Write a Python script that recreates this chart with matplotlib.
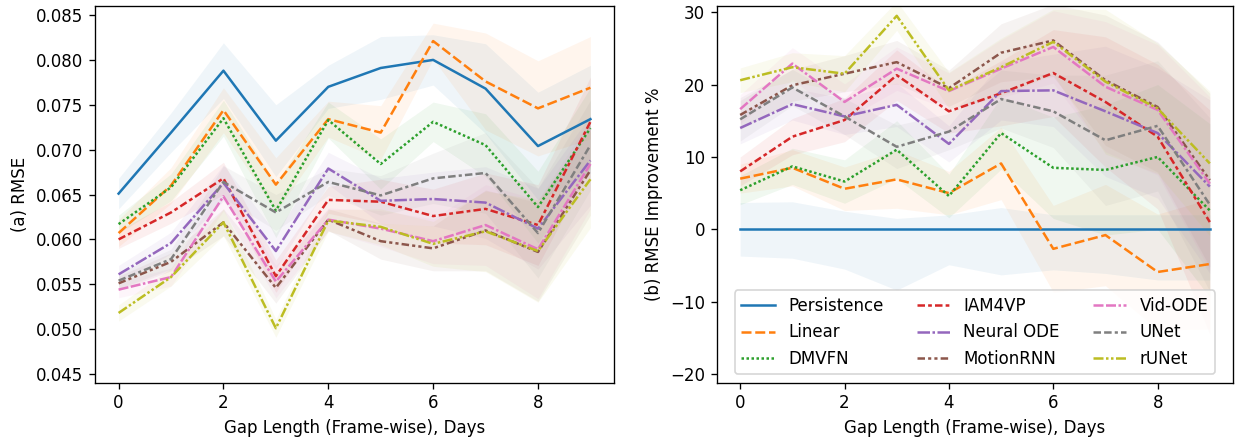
import matplotlib
matplotlib.use("Agg")
import matplotlib.pyplot as plt
import numpy as np

gaps = list(range(10))
models = ["Persistence", "Linear", "DMVFN", "IAM4VP", "Neural ODE",
          "MotionRNN", "Vid-ODE", "UNet", "rUNet"]

# (a) RMSE means
rmse_persistence = [0.0651, 0.0719, 0.0788, 0.0710, 0.0770, 0.0791, 0.0800, 0.0768, 0.0704, 0.0734]
rmse_linear      = [0.0607, 0.0660, 0.0744, 0.0661, 0.0734, 0.0719, 0.0821, 0.0776, 0.0746, 0.0769]
rmse_dmvfn       = [0.0617, 0.0658, 0.0735, 0.0632, 0.0733, 0.0684, 0.0731, 0.0705, 0.0636, 0.0724]
rmse_iam4vp      = [0.0600, 0.0630, 0.0668, 0.0559, 0.0644, 0.0642, 0.0626, 0.0634, 0.0616, 0.0731]
rmse_neuralode   = [0.0561, 0.0596, 0.0663, 0.0587, 0.0679, 0.0643, 0.0645, 0.0641, 0.0612, 0.0688]
rmse_motionrnn   = [0.0551, 0.0575, 0.0619, 0.0546, 0.0622, 0.0598, 0.0590, 0.0610, 0.0586, 0.0677]
rmse_vidode      = [0.0544, 0.0558, 0.0648, 0.0553, 0.0622, 0.0612, 0.0598, 0.0616, 0.0589, 0.0684]
rmse_unet        = [0.0554, 0.0578, 0.0664, 0.0630, 0.0664, 0.0649, 0.0668, 0.0674, 0.0607, 0.0705]
rmse_runet       = [0.0518, 0.0558, 0.0619, 0.0501, 0.0621, 0.0614, 0.0595, 0.0609, 0.0587, 0.0667]

# (a) RMSE band half-widths
err_persistence = [0.0017, 0.0022, 0.0031, 0.0040, 0.0024, 0.0035, 0.0028, 0.0050, 0.0060, 0.0060]
err_linear      = [0.0015, 0.0020, 0.0025, 0.0030, 0.0020, 0.0030, 0.0020, 0.0054, 0.0053, 0.0057]
err_dmvfn       = [0.0010, 0.0015, 0.0020, 0.0030, 0.0020, 0.0028, 0.0022, 0.0035, 0.0040, 0.0045]
err_iam4vp      = [0.0010, 0.0012, 0.0018, 0.0018, 0.0015, 0.0025, 0.0030, 0.0040, 0.0045, 0.0050]
err_neuralode   = [0.0010, 0.0012, 0.0020, 0.0020, 0.0018, 0.0025, 0.0030, 0.0040, 0.0045, 0.0050]
err_motionrnn   = [0.0008, 0.0010, 0.0015, 0.0017, 0.0012, 0.0020, 0.0025, 0.0045, 0.0055, 0.0050]
err_vidode      = [0.0009, 0.0010, 0.0016, 0.0018, 0.0013, 0.0020, 0.0025, 0.0045, 0.0055, 0.0050]
err_unet        = [0.0009, 0.0011, 0.0018, 0.0020, 0.0015, 0.0022, 0.0028, 0.0045, 0.0050, 0.0050]
err_runet       = [0.0009, 0.0010, 0.0015, 0.0010, 0.0012, 0.0020, 0.0025, 0.0045, 0.0057, 0.0054]

# (b) RMSE improvement % means
imp_persistence = [0, 0, 0, 0, 0, 0, 0, 0, 0, 0]
imp_linear      = [7.0, 8.5, 5.6, 6.9, 5.0, 9.1, -2.7, -0.8, -5.9, -4.8]
imp_dmvfn       = [5.4, 8.7, 6.6, 11.0, 4.6, 13.3, 8.5, 8.2, 10.0, 2.6]
imp_iam4vp      = [8.0, 12.8, 15.1, 21.3, 16.3, 18.8, 21.6, 17.6, 12.8, 1.0]
imp_neuralode   = [14.0, 17.3, 15.6, 17.2, 11.8, 19.1, 19.2, 16.3, 13.3, 5.9]
imp_motionrnn   = [15.8, 19.9, 21.5, 23.1, 19.5, 24.4, 26.1, 20.6, 16.9, 6.8]
imp_vidode      = [16.6, 22.9, 17.6, 22.2, 19.1, 22.2, 25.2, 19.7, 16.5, 6.3]
imp_unet        = [15.2, 19.6, 15.6, 11.4, 13.5, 18.0, 16.3, 12.3, 14.3, 3.4]
imp_runet       = [20.6, 22.4, 21.5, 29.5, 19.2, 22.4, 25.9, 20.4, 16.7, 9.1]

# (b) band half-widths
ierr_persistence_hi = [3.7, 3.8, 2.5, 1.5, 2.0, 3.0, 2.0, 2.0, 2.0, 2.0]
ierr_persistence_lo = [3.7, 4.0, 5.5, 8.4, 4.9, 6.3, 5.6, 6.1, 7.0, 7.0]
ierr_linear      = [2.0, 2.5, 3.0, 4.0, 3.0, 5.0, 6.0, 7.0, 8.0, 9.0]
ierr_dmvfn       = [2.0, 2.5, 3.0, 4.0, 3.0, 5.0, 7.0, 9.0, 10.0, 12.0]
ierr_iam4vp      = [2.0, 2.5, 3.0, 3.5, 3.0, 4.5, 6.0, 9.0, 10.0, 15.5]
ierr_neuralode   = [2.2, 2.2, 2.5, 3.0, 2.5, 4.0, 5.0, 9.0, 9.0, 12.0]
ierr_motionrnn   = [2.0, 2.2, 2.5, 3.0, 2.5, 4.0, 5.0, 9.0, 9.0, 12.0]
ierr_vidode      = [2.0, 2.2, 2.5, 3.0, 2.5, 4.0, 5.0, 9.0, 9.0, 12.0]
ierr_unet        = [3.0, 2.5, 2.5, 3.0, 2.5, 4.0, 5.0, 9.0, 9.0, 12.0]
ierr_runet       = [1.7, 2.0, 2.5, 2.0, 2.5, 4.0, 4.5, 10.0, 9.0, 10.0]

rmse_vals = [rmse_persistence, rmse_linear, rmse_dmvfn, rmse_iam4vp, rmse_neuralode,
             rmse_motionrnn, rmse_vidode, rmse_unet, rmse_runet]
rmse_errs = [err_persistence, err_linear, err_dmvfn, err_iam4vp, err_neuralode,
             err_motionrnn, err_vidode, err_unet, err_runet]
imp_vals = [imp_persistence, imp_linear, imp_dmvfn, imp_iam4vp, imp_neuralode,
            imp_motionrnn, imp_vidode, imp_unet, imp_runet]
imp_lo = [ierr_persistence_lo, ierr_linear, ierr_dmvfn, ierr_iam4vp, ierr_neuralode,
          ierr_motionrnn, ierr_vidode, ierr_unet, ierr_runet]
imp_hi = [ierr_persistence_hi, ierr_linear, ierr_dmvfn, ierr_iam4vp, ierr_neuralode,
          ierr_motionrnn, ierr_vidode, ierr_unet, ierr_runet]

colors = ["#1f77b4", "#ff7f0e", "#2ca02c", "#d62728", "#9467bd",
          "#8c564b", "#e377c2", "#7f7f7f", "#bcbd22"]
dashes = [None, (4, 1.5), (1, 1), (3, 1.25, 1.5, 1.25), (5, 1, 1, 1),
          (3, 1.25, 1.25, 1.25, 1.25, 1.25), (4, 1, 4, 1, 1, 1),
          (3, 1.25, 3, 1.25, 1.25, 1.25), (4, 1, 1, 1, 1, 1)]

fig = plt.figure(figsize=(1239 / 120, 442 / 120), dpi=120)
ax1 = fig.add_axes([95 / 1239, 1 - 382.7 / 442, (614 - 95) / 1239, (382.7 - 5.7) / 442])
ax2 = fig.add_axes([716.7 / 1239, 1 - 382.7 / 442, (1233.3 - 716.7) / 1239, (382.7 - 5.7) / 442])

x = np.array(gaps)
for i, name in enumerate(models):
    m = np.array(rmse_vals[i]); e = np.array(rmse_errs[i])
    ax1.fill_between(x, m - e, m + e, color=colors[i], alpha=0.07, linewidth=0)
    ln, = ax1.plot(x, m, color=colors[i], lw=1.5, label=name)
    if dashes[i] is not None:
        ln.set_dashes(dashes[i])

    m2 = np.array(imp_vals[i])
    ax2.fill_between(x, m2 - np.array(imp_lo[i]), m2 + np.array(imp_hi[i]),
                     color=colors[i], alpha=0.07, linewidth=0)
    ln2, = ax2.plot(x, m2, color=colors[i], lw=1.5, label=name)
    if dashes[i] is not None:
        ln2.set_dashes(dashes[i])

for ax in (ax1, ax2):
    ax.set_xlim(-0.45, 9.45)
    ax.set_xticks([0, 2, 4, 6, 8])
    ax.set_xlabel("Gap Length (Frame-wise), Days")

ax1.set_ylim(0.04403, 0.08604)
ax1.set_yticks(np.arange(0.045, 0.0851, 0.005))
ax1.yaxis.set_major_formatter(matplotlib.ticker.FormatStrFormatter("%.3f"))
ax1.set_ylabel("(a) RMSE")

ax2.set_ylim(-21.2, 30.9)
ax2.set_yticks([-20, -10, 0, 10, 20, 30])
ax2.set_ylabel("(b) RMSE Improvement %")
ax2.legend(loc="lower center", ncol=3)

fig.savefig("out.png", dpi=120)
